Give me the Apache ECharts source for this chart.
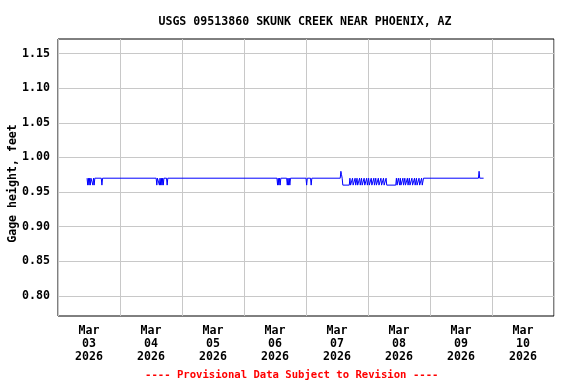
<!DOCTYPE html>
<html>
<head>
<meta charset="utf-8">
<script src="https://cdn.jsdelivr.net/npm/echarts@6/dist/echarts.min.js"></script>
<style>html,body{margin:0;padding:0;background:#fff}#c{width:576px;height:384px}</style>
</head>
<body>
<div id="c"></div>
<script>
// Title and notes
var chartTitle = 'USGS 09513860 SKUNK CREEK NEAR PHOENIX, AZ';
var yAxisTitle = 'Gage height, feet';
var footerNote = '---- Provisional Data Subject to Revision ----';

// X axis: hours since Mar 03 2026 00:00 (local); one label per day
var dayLabels = ['Mar\n03\n2026','Mar\n04\n2026','Mar\n05\n2026','Mar\n06\n2026',
                 'Mar\n07\n2026','Mar\n08\n2026','Mar\n09\n2026','Mar\n10\n2026'];
var yTickValues = [0.80, 0.85, 0.90, 0.95, 1.00, 1.05, 1.10, 1.15];

// Gage height readings (hours since Mar 03 00:00, feet)
var hours = [
  11.25, 11.5, 11.75, 12.0, 12.25, 12.5, 12.75, 13.25, 13.5, 13.75, 14.0, 14.25, 14.5, 16.75, 17.0, 17.25,
  38.0, 38.25, 38.5, 39.0, 39.25, 39.5, 39.75, 40.0, 40.25, 40.5, 40.75, 41.0, 42.0, 42.25, 42.5,
  84.75, 85.0, 85.25, 85.5, 85.75, 86.0, 86.25,
  88.5, 88.75, 89.0, 89.25, 89.5, 89.75, 90.0,
  96.0, 96.25, 96.5, 97.75, 98.0, 98.25,
  109.25, 109.5, 109.75, 110.0, 110.25,
  112.75, 113.0, 113.25, 113.75, 114.0, 114.25, 114.75, 115.0, 115.25, 115.5, 115.75, 116.0,
  116.5, 116.75, 117.0, 117.25, 117.5, 117.75, 118.25, 118.5, 118.75, 119.25, 119.5, 119.75,
  120.0, 120.25, 120.5, 121.0, 121.25, 121.5, 122.0, 122.25, 122.5, 122.75, 123.0, 123.25,
  123.75, 124.0, 124.25, 124.75, 125.0, 125.25, 125.75, 126.0, 126.25, 126.75, 127.0, 127.25,
  130.75, 131.0, 131.25, 131.5, 131.75, 132.25, 132.5, 132.75, 133.25, 133.5, 133.75,
  134.0, 134.25, 134.5, 135.0, 135.25, 135.5, 135.75, 136.0, 136.25, 136.75, 137.0, 137.25,
  137.75, 138.0, 138.25, 138.5, 138.75, 139.0, 139.5, 139.75, 140.0, 140.5, 140.75, 141.0,
  141.25, 141.5, 141.75,
  162.75, 163.0, 163.25, 164.75
];
var gageFeet = [
  0.97, 0.96, 0.97, 0.96, 0.97, 0.96, 0.97, 0.97, 0.96, 0.97, 0.96, 0.97, 0.97, 0.97, 0.96, 0.97,
  0.97, 0.96, 0.97, 0.97, 0.96, 0.97, 0.96, 0.97, 0.96, 0.97, 0.96, 0.97, 0.97, 0.96, 0.97,
  0.97, 0.96, 0.97, 0.96, 0.97, 0.96, 0.97,
  0.97, 0.96, 0.97, 0.96, 0.97, 0.96, 0.97,
  0.97, 0.96, 0.97, 0.97, 0.96, 0.97,
  0.97, 0.98, 0.975, 0.97, 0.96,
  0.96, 0.97, 0.96, 0.96, 0.97, 0.96, 0.96, 0.97, 0.96, 0.96, 0.97, 0.96,
  0.96, 0.97, 0.96, 0.96, 0.97, 0.96, 0.96, 0.97, 0.96, 0.96, 0.97, 0.96,
  0.96, 0.97, 0.96, 0.96, 0.97, 0.96, 0.96, 0.97, 0.96, 0.96, 0.97, 0.96,
  0.96, 0.97, 0.96, 0.96, 0.97, 0.96, 0.96, 0.97, 0.96, 0.96, 0.97, 0.96,
  0.96, 0.97, 0.96, 0.96, 0.97, 0.96, 0.97, 0.96, 0.96, 0.97, 0.96,
  0.96, 0.97, 0.96, 0.96, 0.97, 0.96, 0.96, 0.97, 0.96, 0.96, 0.97, 0.96,
  0.96, 0.97, 0.96, 0.96, 0.97, 0.96, 0.96, 0.97, 0.96, 0.96, 0.97, 0.96,
  0.96, 0.97, 0.97,
  0.97, 0.98, 0.97, 0.97
];

var seriesData = hours.map(function (h, i) { return [h, gageFeet[i]]; });

var FONT = '"DejaVu Sans Mono", monospace';
var chart = echarts.init(document.getElementById('c'), null, {renderer: 'canvas'});
chart.setOption({
  animation: false,
  backgroundColor: '#ffffff',
  title: {
    text: chartTitle, left: 300, top: 11, textAlign: 'center',
    textStyle: {fontFamily: FONT, fontSize: 11.6, fontWeight: 'bold', color: '#000'}
  },
  graphic: [{
    type: 'text', left: 145, top: 370,
    style: {text: footerNote, fontFamily: FONT, fontSize: 10.6, fontWeight: 'bold', fill: '#ff0000'}
  }],
  grid: {left: 58, right: 22, top: 39, bottom: 68, containLabel: false, outerBoundsMode: 'none',
         show: true, borderColor: '#000', borderWidth: 1},
  xAxis: [{
    type: 'value', min: 0, max: 192, interval: 24,
    axisLine: {show: false}, axisTick: {show: false}, axisLabel: {show: false},
    splitLine: {show: true, lineStyle: {color: '#c8c8c8', width: 1}}
  }, {
    type: 'value', min: 0, max: 192, interval: 12, position: 'bottom',
    axisLine: {show: false}, axisTick: {show: false}, splitLine: {show: false},
    axisLabel: {
      margin: 8, lineHeight: 13, fontFamily: FONT, fontSize: 11.6, fontWeight: 'bold', color: '#000',
      showMinLabel: false, showMaxLabel: false,
      formatter: function (v) {
        if (v % 24 === 12) { return dayLabels[Math.floor(v / 24)] || ''; }
        return '';
      }
    }
  }],
  yAxis: [{
    type: 'value', min: 0.771, max: 1.171,
    axisLine: {show: false}, axisTick: {show: false},
    axisLabel: {
      customValues: yTickValues, margin: 8, fontFamily: FONT, fontSize: 11.6, fontWeight: 'bold', color: '#000',
      formatter: function (v) { return v.toFixed(2); }
    },
    splitLine: {show: false},
    name: yAxisTitle, nameLocation: 'middle', nameGap: 39, nameRotate: 90, nameMoveOverlap: false,
    nameTextStyle: {fontFamily: FONT, fontSize: 11.6, fontWeight: 'bold', color: '#000', padding: [0, 12, 0, 0]}
  }],
  series: [{
    type: 'line', xAxisIndex: 0, yAxisIndex: 0, data: seriesData,
    showSymbol: false, symbol: 'none',
    lineStyle: {color: '#0000ff', width: 1}, z: 5,
    markLine: {
      silent: true, symbol: 'none', label: {show: false}, z: 1,
      lineStyle: {color: '#c8c8c8', width: 1, type: 'solid'},
      data: yTickValues.map(function (v) { return {yAxis: v}; })
    }
  }]
});
</script>
</body>
</html>
